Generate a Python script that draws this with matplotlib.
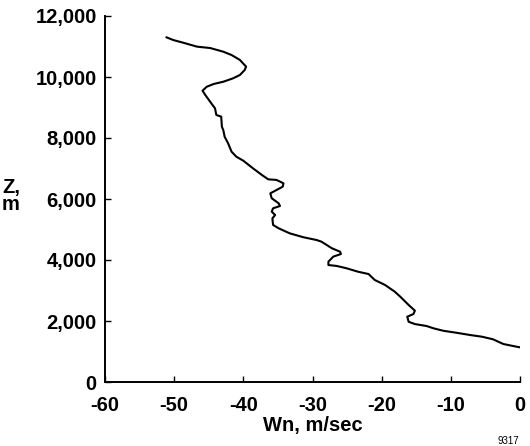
import matplotlib
matplotlib.use("Agg")
import matplotlib.pyplot as plt
from matplotlib.ticker import FuncFormatter

# Wind component Wn (m/sec) vs altitude Z (m)
wn = [-51.1, -50.1, -48.7, -46.7, -44.8, -42.9, -41.7, -40.5, -39.6, -39.8,
      -40.5, -41.5, -42.9, -44.3, -45.3, -45.9, -45.5, -44.8, -44.1, -43.9,
      -43.2, -43.1, -42.9, -42.7, -42.2, -41.7, -41.0, -40.0, -38.6, -37.3,
      -36.4, -35.2, -34.2, -34.3, -35.2, -36.1, -35.9, -34.9, -34.7, -35.7,
      -35.9, -35.4, -35.8, -35.7, -34.9, -33.3, -31.3, -29.4, -28.7, -27.2,
      -26.0, -25.9, -27.0, -27.7, -27.7, -26.5, -25.1, -23.4, -21.9, -21.0,
      -19.5, -18.1, -17.3, -16.1, -15.2, -15.4, -16.3, -16.1, -15.2, -13.5,
      -12.5, -11.1, -9.2, -7.2, -5.5, -3.9, -2.4, -1.0, -0.1]
z = [11300, 11210, 11125, 10995, 10950, 10830, 10720, 10560, 10340, 10230,
     10065, 9955, 9845, 9770, 9680, 9550, 9410, 9190, 8975, 8755,
     8700, 8370, 8260, 8040, 7825, 7550, 7385, 7255, 7005, 6785,
     6645, 6625, 6515, 6405, 6295, 6185, 6025, 5860, 5770, 5695,
     5585, 5475, 5365, 5150, 5040, 4875, 4745, 4655, 4600, 4385,
     4270, 4195, 4110, 3945, 3835, 3805, 3730, 3615, 3540, 3345,
     3180, 2960, 2795, 2525, 2340, 2230, 2140, 1975, 1900, 1835,
     1760, 1680, 1615, 1540, 1485, 1400, 1245, 1180, 1140]

xticks = [-60, -50, -40, -30, -20, -10, 0]
yticks = [0, 2000, 4000, 6000, 8000, 10000, 12000]

plt.rcParams['font.family'] = ['Liberation Sans', 'DejaVu Sans']
plt.rcParams['font.weight'] = 'bold'

FS = 14.5

fig = plt.figure(figsize=(5.30, 4.46), dpi=100)
ax = fig.add_axes([105/530, 1 - 382/446, 415/530, 366/446])

ax.plot(wn, z, color='black', linewidth=1.5)

ax.set_xlim(-60, 0)
ax.set_ylim(0, 12000)
ax.set_xticks(xticks)
ax.set_yticks(yticks)
ax.yaxis.set_major_formatter(FuncFormatter(lambda v, p: f"{int(v):,}"))
ax.xaxis.set_major_formatter(FuncFormatter(lambda v, p: f"{int(v)}"))

for s in ['top', 'right']:
    ax.spines[s].set_visible(False)
for s in ['left', 'bottom']:
    ax.spines[s].set_linewidth(1.4)

ax.tick_params(direction='in', length=4, width=1, labelsize=FS, colors='black')
ax.tick_params(axis='x', pad=10)
ax.tick_params(axis='y', pad=6)
for lab in ax.get_xticklabels() + ax.get_yticklabels():
    lab.set_fontweight('bold')

fig.text(11/530, 1 - 196/446, "Z,\nm", ha='center', va='center',
         fontsize=FS, fontweight='bold', linespacing=0.9)
fig.text(313/530, 1 - 426/446, "Wn, m/sec", ha='center', va='center',
         fontsize=FS, fontweight='bold')
fig.text(519/530, 1 - 441/446, "9317", ha='right', va='center',
         fontsize=7, fontweight='normal')

fig.savefig("out.png", dpi=100)
